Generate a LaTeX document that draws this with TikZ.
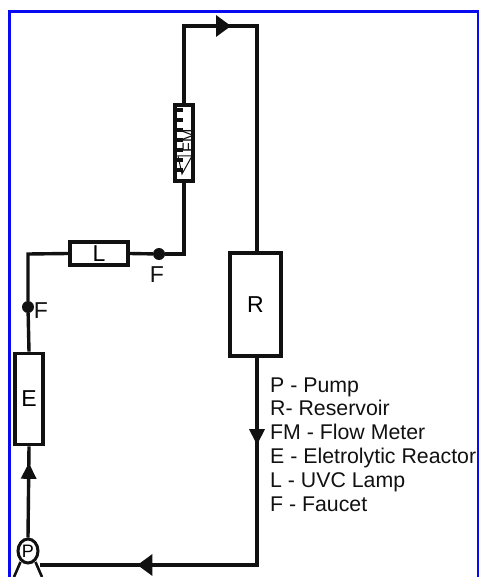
\documentclass[tikz,border=0pt]{standalone}
\usepackage{fontspec}
\setmainfont{Liberation Sans}
\usetikzlibrary{arrows.meta,decorations.markings,shapes.geometric}
\definecolor{ink}{HTML}{111111}
\definecolor{frameblue}{HTML}{0A0AF0}
\tikzset{
  wire/.style={ink,line width=3.4pt},
  unit/.style={draw=ink,line width=3.8pt,fill=white,inner sep=0pt,font=\fontsize{23}{23}\selectfont},
  faucet/.style={circle,fill=ink,minimum size=12pt,inner sep=0pt},
  flowmark/.style={postaction={decorate,decoration={markings,
    mark=at position #1 with {\arrow{Triangle[length=16pt,width=15pt]}}}}},
  flowmarkwide/.style={postaction={decorate,decoration={markings,
    mark=at position #1 with {\arrow{Triangle[length=15pt,width=21pt]}}}}},
  lettering/.style={ink,font=\fontsize{23}{23}\selectfont,inner sep=0pt},
}
\begin{document}
\begin{tikzpicture}[x=1pt,y=-1pt]
  \useasboundingbox (0,0) rectangle (479,577);
  \fill[white] (0,0) rectangle (479,577);
  \draw[frameblue,line width=3pt] (9.5,577)--(9.5,11.5)--(479,11.5);
  \draw[frameblue,line width=2pt] (478,11.5)--(478,577);

  % units on the loop
  \node[unit,minimum width=28pt,minimum height=91pt] (reactor) at (29,399) {E};
  \node[unit,minimum width=58pt,minimum height=23pt] (lamp) at (99,253.5) {L};
  \node[unit,minimum width=18pt,minimum height=76pt] (meter) at (184,143) {};
  \node[unit,minimum width=51pt,minimum height=103pt] (reservoir) at (255.5,304.5) {R};
  \node[ellipse,draw=ink,line width=3pt,minimum width=20pt,minimum height=24pt,inner sep=0pt,
    font=\fontsize{18}{18}\selectfont] (pump) at (28,551) {P};
  \node[faucet] (faucetA) at (28,307) {};
  \node[faucet] (faucetB) at (159,254) {};
  \coordinate (cornerA) at (28,254);
  \coordinate (cornerB) at (184,254);
  \coordinate (cornerC) at (184,26);
  \coordinate (cornerD) at (257,26);
  \coordinate (cornerE) at (257,565);
  \coordinate (resTop) at (257,252);
  \coordinate (resBot) at (257,357);

  % pipes
  \draw[wire,flowmark=.82] (pump.north)--(reactor.south);
  \draw[wire] (reactor.north)--(faucetA);
  \draw[wire] (faucetA)--(cornerA)--(lamp.west);
  \draw[wire] (lamp.east)--(faucetB);
  \draw[wire] (faucetB)--(cornerB)--(meter.south);
  \draw[wire,flowmarkwide=.33] (meter.north)--(cornerC)--(cornerD)--(resTop);
  \draw[wire,flowmark=.207,flowmarkwide=.77] (resBot)--(cornerE)--(pump.east |- cornerE);

  % pump foot
  \draw[ink,line width=2.6pt] (20.5,562)--(14,577);
  \draw[ink,line width=2.6pt] (35.5,562)--(42,577);

  % flow meter scale
  \foreach \y in {110,120,130,140,150,160,170} {
    \draw[ink,line width=3.4pt] (173,\y)--(182.5,\y);
  }
  \draw[ink,line width=1pt] (178,156)--(192,156)--(182,174)--cycle;
  \node[lettering,rotate=90,font=\fontsize{16}{16}\selectfont] (meterlabel) at (188,141) {FM};

  \node[lettering] (faucetAlabel) at (41,311) {F};
  \node[lettering] (faucetBlabel) at (157,275) {F};

  % key
  \foreach \y/\txt [count=\i] in {392/P - Pump,415.5/R- Reservoir,439/FM - Flow Meter,
      463/E - Eletrolytic Reactor,487/L - UVC Lamp,511/F - Faucet} {
    \node[ink,anchor=base west,inner sep=0pt,font=\fontsize{21.3}{21.3}\selectfont] (key\i) at (270,\y) {\txt};
  }
\end{tikzpicture}
\end{document}
